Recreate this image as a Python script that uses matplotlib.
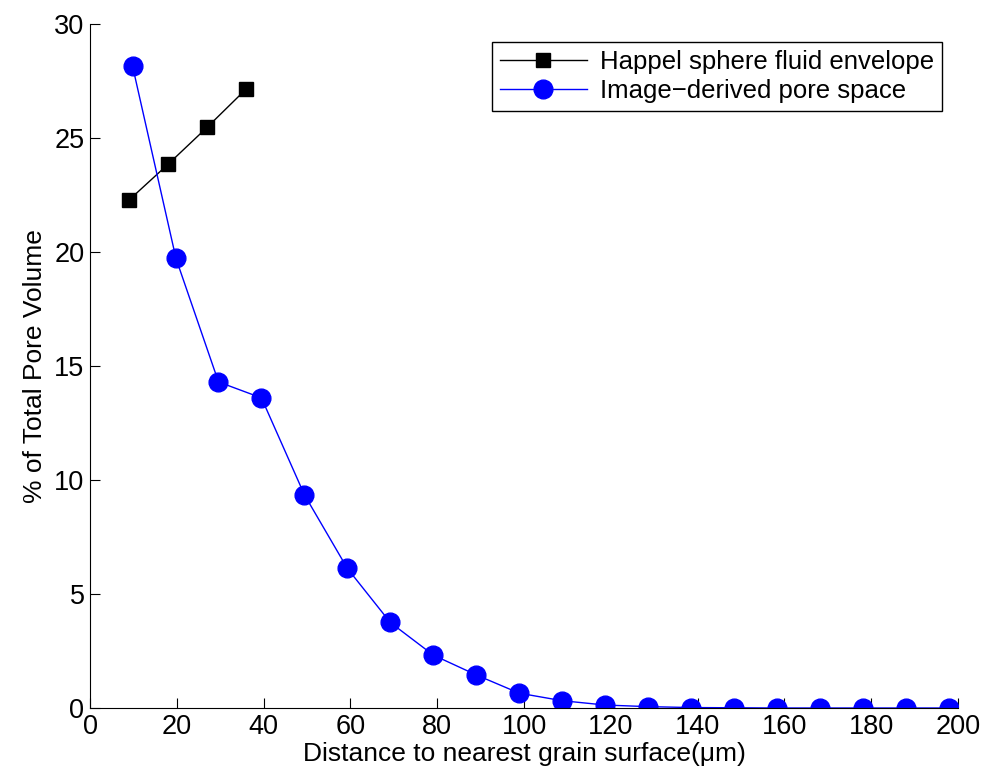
import matplotlib.pyplot as plt

plt.rcParams['font.family'] = ['Liberation Sans', 'DejaVu Sans']

happel_x = [9.0, 18.0, 27.0, 36.0]
happel_y = [22.28, 23.85, 25.47, 27.15]

image_x = [9.8, 19.8, 29.6, 39.5, 49.4, 59.3, 69.2, 79.1, 89.0, 98.9,
           108.8, 118.7, 128.6, 138.5, 148.4, 158.3, 168.2, 178.1, 188.0, 197.9]
image_y = [28.15, 19.72, 14.3, 13.6, 9.35, 6.12, 3.75, 2.32, 1.45, 0.65,
           0.32, 0.13, 0.06, 0.02, 0.01, 0.0, 0.0, 0.0, 0.0, 0.0]

fig = plt.figure(figsize=(9.85, 7.8), dpi=100)
ax = fig.add_axes([0.0914, 0.0923, 0.8812, 0.877])

ax.plot(happel_x, happel_y, '-s', color='black', lw=1.0, markersize=10,
        label='Happel sphere fluid envelope')
ax.plot(image_x, image_y, '-o', color='blue', lw=1.0, markersize=13.5,
        label='Image\u2212derived pore space')

ax.set_xlim(0, 200)
ax.set_ylim(0, 30)
ax.set_xticks(range(0, 201, 20))
ax.set_yticks(range(0, 31, 5))
ax.spines['top'].set_visible(False)
ax.spines['right'].set_visible(False)
ax.tick_params(direction='in', length=7, labelsize=19.5, pad=4)
ax.set_xlabel('Distance to nearest grain surface(\u03bcm)', fontsize=19, labelpad=2)
ax.set_ylabel('% of Total Pore Volume', fontsize=19, labelpad=5)

leg = ax.legend(loc='upper right', fontsize=18.5, fancybox=False, edgecolor='black',
                framealpha=1, borderpad=0.3, handlelength=3.4, labelspacing=0.22,
                handletextpad=0.5, borderaxespad=0.3, bbox_to_anchor=(0.99, 0.985))
leg.get_frame().set_linewidth(1.0)

fig.savefig('out.png', dpi=100)
